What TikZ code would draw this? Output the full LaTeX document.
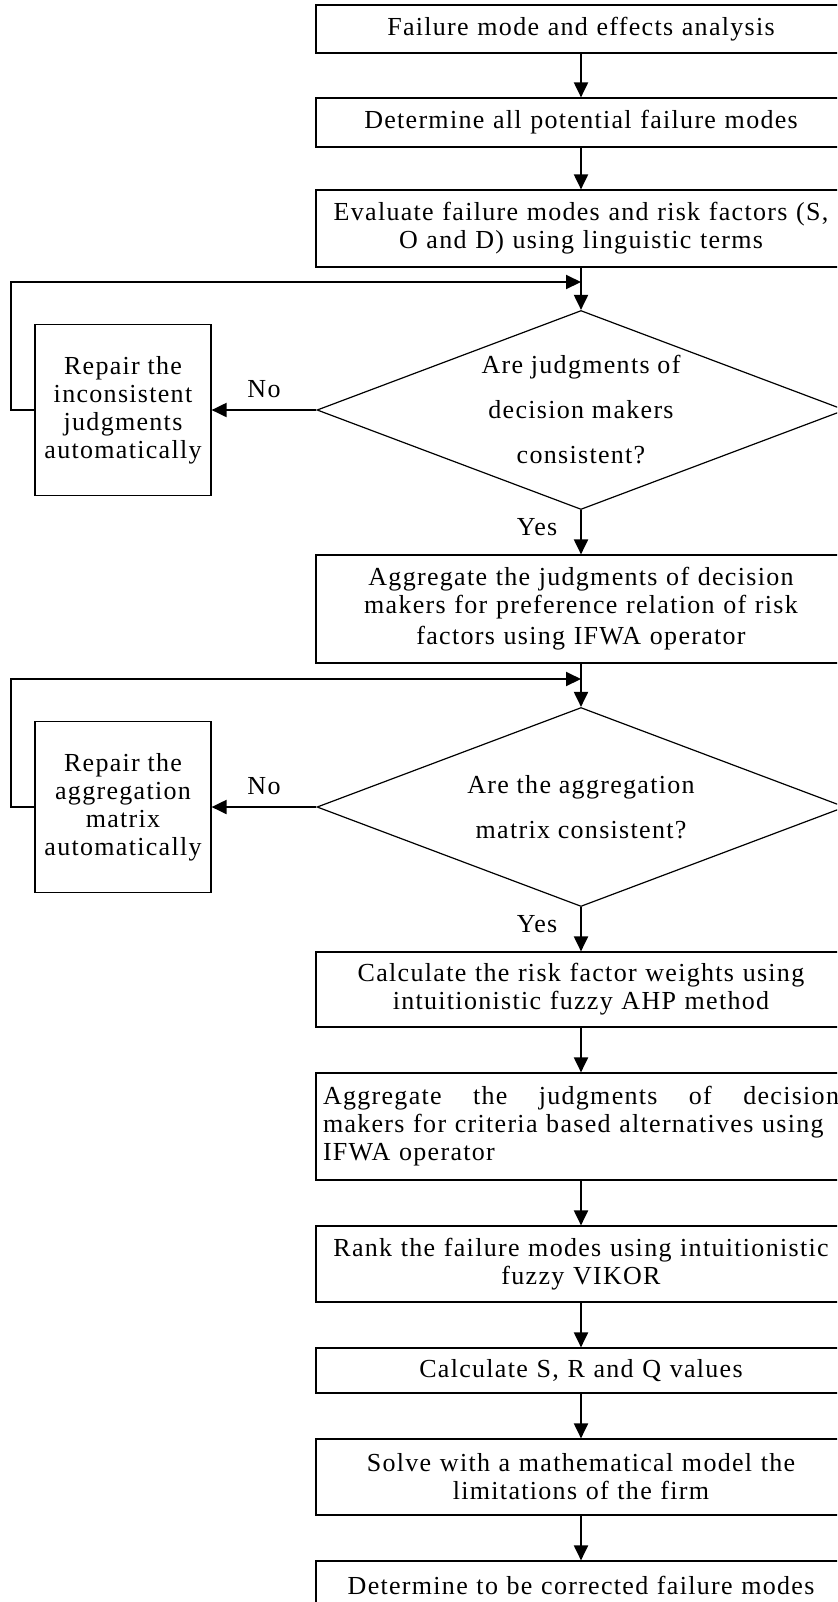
\documentclass[tikz,border=0pt]{standalone}
\usepackage{fontspec}
\setmainfont{Liberation Serif}[LetterSpace=5]
\usepackage{tikz}
\usetikzlibrary{shapes,arrows.meta}

\tikzset{
	procbox/.style={draw, line width=0.6pt, minimum width=265pt, text width=258pt, inner xsep=3.5pt, align=center, font=\fontsize{13}{14}\selectfont},
	decision/.style={draw, diamond, line width=0.6pt, inner sep=0pt, shape aspect=2.65, minimum width=264pt, minimum height=99.5pt, align=center, font=\fontsize{13}{22.5}\selectfont},
	repairbox/.style={draw, line width=0.6pt, minimum width=88pt, minimum height=85.5pt, align=center, font=\fontsize{13}{14}\selectfont},
	flow/.style={->, line width=1pt},
	tag/.style={font=\fontsize{13}{14}\selectfont}
}

\begin{document}
\begin{tikzpicture}[x=0.5pt, y=-0.5pt, >={Triangle[length=7.5pt,width=7pt]}]
	\useasboundingbox (0,0) rectangle (837,1602);
	\clip (0,0) rectangle (837,1602);
	
	% Main column
	\node[procbox, minimum height=24pt] (fmea) at (581,29) {Failure mode and effects analysis};
	\node[procbox, minimum height=24.5pt] (modes) at (581,122.5) {Determine all potential failure modes};
	\node[procbox, minimum height=38.5pt] (evaluate) at (581,228.5) {Evaluate failure modes and risk factors (S,\\ O and D) using linguistic terms};
	\node[decision] (judgcheck) at (581,410) {Are judgments of\\ decision makers\\ consistent?};
	\node[procbox, minimum height=54pt] (aggpref) at (581,609) {Aggregate the judgments of decision\\ makers for preference relation of risk\\[1.5pt] factors using IFWA operator};
	\node[decision] (aggcheck) at (581,807) {Are the aggregation\\ matrix consistent?};
	\node[procbox, minimum height=37.5pt] (weights) at (581,989.5) {Calculate the risk factor weights using\\ intuitionistic fuzzy AHP method};
	\node[procbox, minimum height=53.5pt, align=left] (aggalt) at (581,1126.5) {Aggregate\hfill the\hfill judgments\hfill of\hfill decision\\ makers for criteria based alternatives using\\ IFWA operator};
	\node[procbox, minimum height=38pt] (rank) at (581,1264) {Rank the failure modes using intuitionistic\\ fuzzy VIKOR};
	\node[procbox, minimum height=22.5pt] (sqr) at (581,1370.5) {Calculate S, R and Q values};
	\node[procbox, minimum height=38pt] (solve) at (581,1477) {Solve with a mathematical model the\\ limitations of the firm};
	\node[procbox, minimum height=24pt] (correct) at (581,1585) {Determine to be corrected failure modes};
	
	% Repair boxes on the left
	\node[repairbox] (repairjudg) at (123,410) {Repair the\\ inconsistent\\ judgments\\ automatically};
	\node[repairbox] (repairagg) at (123,807) {Repair the\\ aggregation\\ matrix\\ automatically};
	
	% Loop entry points
	\coordinate (loopin1) at (581,282);
	\coordinate (loopin2) at (581,679);
	
	% Straight arrows down the column
	\foreach \a/\b in {fmea/modes, modes/evaluate, evaluate/judgcheck, aggpref/aggcheck, weights/aggalt, aggalt/rank, rank/sqr, sqr/solve, solve/correct} {
		\draw[flow] (\a) -- (\b);
	}
	
	% Decisions
	\draw[flow] (judgcheck) -- (aggpref) node[tag, pos=0.38, left=8pt] {Yes};
	\draw[flow] (aggcheck) -- (weights) node[tag, pos=0.38, left=8pt] {Yes};
	\draw[flow] (judgcheck.west) -- (repairjudg.east) node[tag, midway, above=2.5pt] {No};
	\draw[flow] (aggcheck.west) -- (repairagg.east) node[tag, midway, above=2.5pt] {No};
	
	% Feedback loops
	\draw[flow] (repairjudg.west) -- ++(-23,0) |- (loopin1);
	\draw[flow] (repairagg.west) -- ++(-23,0) |- (loopin2);
\end{tikzpicture}
\end{document}
